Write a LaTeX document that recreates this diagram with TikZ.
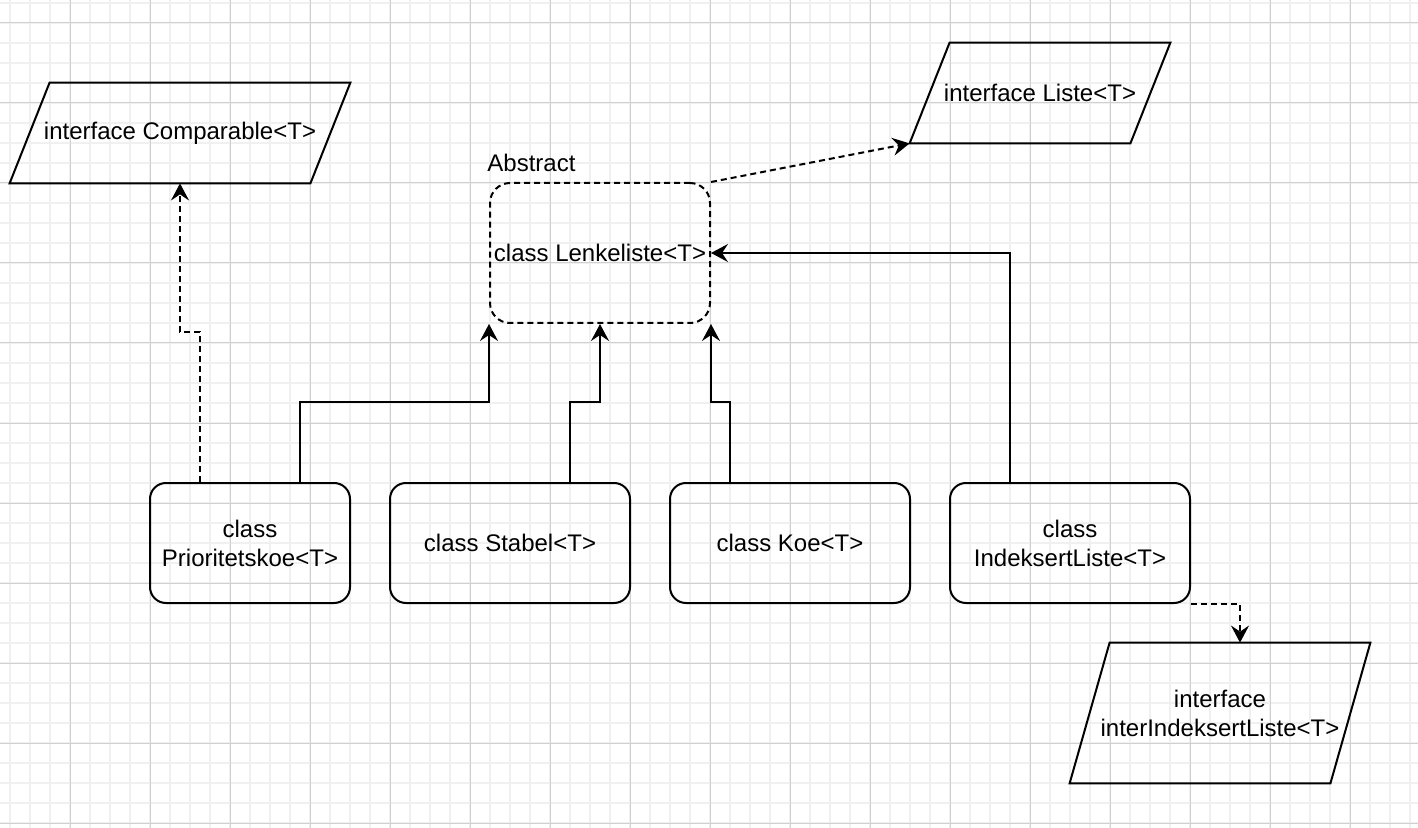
\documentclass[tikz,border=0pt]{standalone}
\usepackage{fontspec}
\setmainfont{Liberation Sans}
\usetikzlibrary{arrows.meta}

\definecolor{rutefin}{RGB}{240,240,240}
\definecolor{rutegrov}{RGB}{208,208,208}

\tikzset{
  tekst/.style={font=\fontsize{12}{14.5}\selectfont},
  klasse/.style={tekst,draw,line width=1pt,rounded corners=8pt,align=center,inner sep=0pt,minimum height=60pt},
  grensesnitt/.style={tekst,align=center,inner sep=0pt},
  kant/.style={line width=1pt,line join=miter},
  arv/.style={line width=1pt,-{Stealth[length=8.5pt,width=9pt,inset=3pt]}},
  impl/.style={arv,dash pattern=on 3pt off 2pt}
}

\begin{document}
\begin{tikzpicture}[x=0.5pt,y=0.5pt,yscale=-1]
%set diagram size to 1418 x 828
\useasboundingbox (0,0) rectangle (1418,828);
\fill[white] (0,0) rectangle (1418,828);

%Grid
\foreach \x in {10,30,...,1410} \draw[rutefin,line width=1pt] (\x,0) -- (\x,828);
\foreach \y in {3,23,...,823} \draw[rutefin,line width=1pt] (0,\y) -- (1418,\y);
\foreach \x in {70,150,...,1350} \draw[rutegrov,line width=0.5pt] (\x,0) -- (\x,828);
\foreach \y in {23,103,...,823} \draw[rutegrov,line width=0.5pt] (0,\y) -- (1418,\y);

%Shape: Parallelogram
\node[grensesnitt,minimum width=170pt,minimum height=50pt] (cmp) at (180,133) {interface Comparable<T>};
\draw[kant] ([xshift=20pt]cmp.north west) -- (cmp.north east) -- ([xshift=-20pt]cmp.south east) -- (cmp.south west) -- cycle;
%Shape: Parallelogram
\node[grensesnitt,minimum width=130pt,minimum height=50pt] (liste) at (1040,93) {interface Liste<T>};
\draw[kant] ([xshift=20pt]liste.north west) -- (liste.north east) -- ([xshift=-20pt]liste.south east) -- (liste.south west) -- cycle;
%Shape: Parallelogram
\node[grensesnitt,minimum width=150pt,minimum height=70pt] (inter) at (1220,713) {interface\\interIndeksertListe<T>};
\draw[kant] ([xshift=20pt]inter.north west) -- (inter.north east) -- ([xshift=-20pt]inter.south east) -- (inter.south west) -- cycle;

%Shape: Rounded Rect
\node[klasse,dash pattern=on 3pt off 2pt,rounded corners=10pt,minimum width=110pt,minimum height=70pt] (lenke) at (600,253) {class Lenkeliste<T>};
% Text Node
\node[tekst,anchor=west,inner sep=0pt] (abs) at (487,163) {Abstract};

%Shape: Rounded Rect
\node[klasse,minimum width=100pt] (prio) at (250,543) {class\\Prioritetskoe<T>};
\node[klasse,minimum width=120pt] (stabel) at (510,543) {class Stabel<T>};
\node[klasse,minimum width=120pt] (koe) at (790,543) {class Koe<T>};
\node[klasse,minimum width=120pt] (idx) at (1070,543) {class\\IndeksertListe<T>};

%Connectors
\draw[impl] ([xshift=-25pt]prio.north) -- ++(0,-150) -| (cmp.south);
\draw[arv] ([xshift=25pt]prio.north) -- ++(0,-80) -| (lenke.south west);
\draw[arv] ([xshift=30pt]stabel.north) -- ++(0,-80) -| (lenke.south);
\draw[arv] ([xshift=-30pt]koe.north) -- ++(0,-80) -| (lenke.south east);
\draw[arv] ([xshift=-30pt]idx.north) |- (lenke.east);
\draw[impl] (lenke.north east) -- (liste.south west);
\draw[impl] (idx.south east) -| ([xshift=10pt]inter.north);

\end{tikzpicture}
\end{document}
